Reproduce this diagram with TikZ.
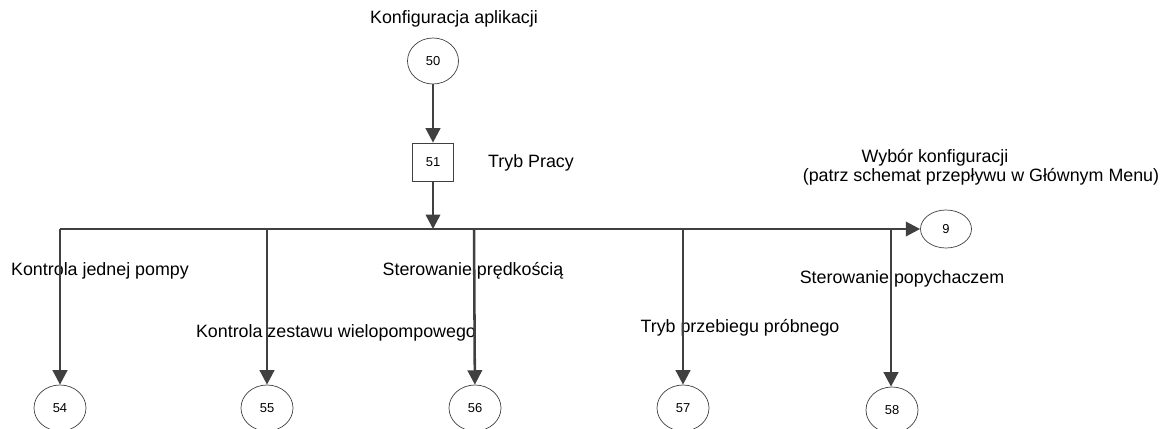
\documentclass[tikz,border=0pt]{standalone}
\usepackage{fontspec}
\setmainfont{Liberation Sans}
\usetikzlibrary{arrows.meta,shapes.geometric}
\definecolor{flowgray}{HTML}{404040}

\begin{document}
\begin{tikzpicture}[
  x=0.025cm, y=-0.025cm,
  every node/.style={font=\fontsize{12.7}{14}\selectfont, inner sep=0pt},
  numcircle/.style={ellipse, draw=flowgray, line width=0.5pt,
        minimum width=1.3cm, minimum height=1.15cm,
        font=\fontsize{9.2}{11}\selectfont},
  numbox/.style={rectangle, draw=flowgray, line width=0.5pt,
        minimum width=1.025cm, minimum height=0.95cm,
        font=\fontsize{9.2}{11}\selectfont},
  flowarrow/.style={draw=flowgray, line width=1.8pt,
        -{Triangle[length=0.36cm, width=0.36cm]}}
]
  \useasboundingbox (0,0) rectangle (1162,428);

  % Top: application configuration
  \node (lblConf) at (454,19) {Konfiguracja aplikacji};
  \node[numcircle, minimum width=1.275cm] (c50) at (433,61) {50};

  % Operating mode box
  \node[numbox] (m51) at (433,162) {51};
  \node (lblTryb) at (531,163) {Tryb Pracy};

  % Configuration choice
  \node (lblWyb) at (935,158) {Wybór konfiguracji};
  \node (lblWyb2) at (981,177) {(patrz schemat przepływu w Głównym Menu)};
  \node[numcircle, minimum width=1.275cm, minimum height=0.95cm]
    (c9) at (946,229) {9};

  % Bus points
  \coordinate (b54) at (60,229);
  \coordinate (b55) at (267,229);
  \coordinate (b56) at (474,229);
  \coordinate (b57) at (683,229);
  \coordinate (b58) at (891,229);

  % Bottom row
  \node[numcircle] (c54) at (60,408) {54};
  \node[numcircle] (c55) at (267,408) {55};
  \node[numcircle] (c56) at (475,408) {56};
  \node[numcircle] (c57) at (683,408) {57};
  \node[numcircle] (c58) at (892,410) {58};

  % Branch labels
  \node (lbl54) at (100,271) {Kontrola jednej pompy};
  \node (lbl55) at (336,333) {Kontrola zestawu wielopompowego};
  \node (lbl56) at (473,271) {Sterowanie prędkością};
  \node (lbl57) at (740,328) {Tryb przebiegu próbnego};
  \node (lbl58) at (902,279) {Sterowanie popychaczem};

  % Connectors
  \draw[flowarrow] (c50) -- (m51);
  \draw[flowarrow] (m51) -- (m51 |- b54);
  \draw[flowarrow] (b54) -- (c9);
  \draw[flowarrow] (b54) -- (c54);
  \draw[flowarrow] (b55) -- (c55);
  \draw[flowarrow] (b56) -- (c56);
  \draw[flowarrow] (b57) -- (c57);
  \draw[flowarrow] (b58) -- (b58 |- c58.north);
\end{tikzpicture}
\end{document}
